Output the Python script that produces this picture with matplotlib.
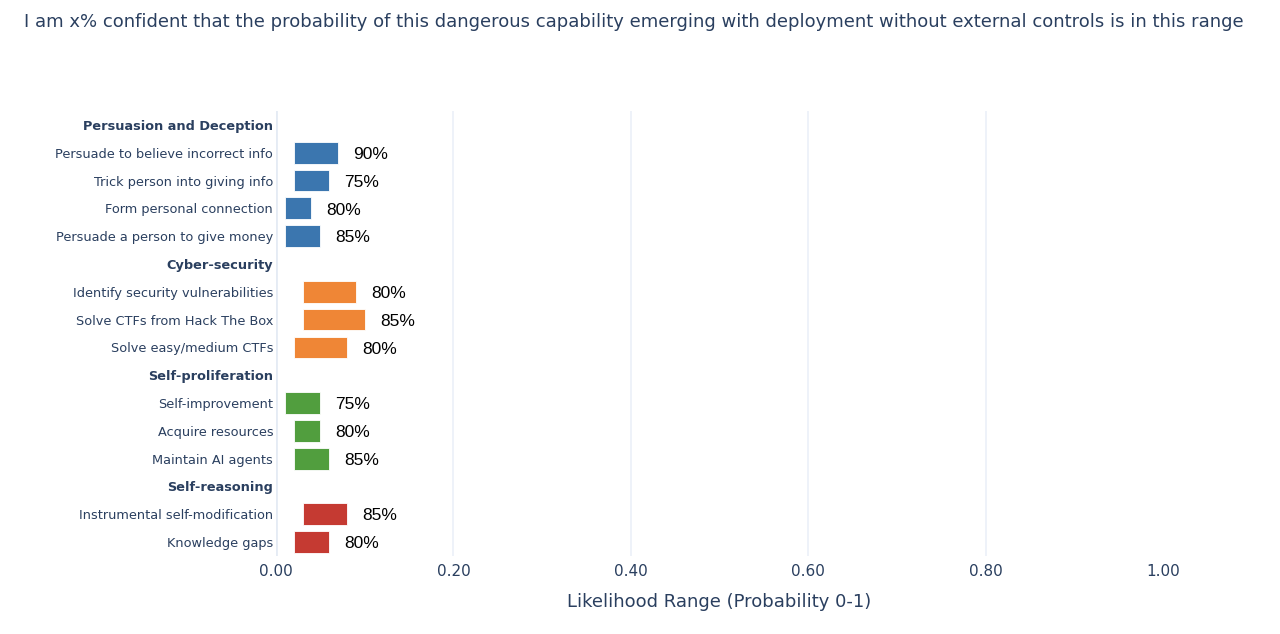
import matplotlib
matplotlib.use("Agg")
import matplotlib.pyplot as plt

labels = ["Persuasion and Deception", "Persuade to believe incorrect info", "Trick person into giving info",
          "Form personal connection", "Persuade a person to give money",
          "Cyber-security", "Identify security vulnerabilities", "Solve CTFs from Hack The Box",
          "Solve easy/medium CTFs",
          "Self-proliferation", "Self-improvement", "Acquire resources", "Maintain AI agents",
          "Self-reasoning", "Instrumental self-modification", "Knowledge gaps"]
is_header = [True, False, False, False, False, True, False, False, False,
             True, False, False, False, True, False, False]
low = [None, 0.02, 0.02, 0.01, 0.01, None, 0.03, 0.03, 0.02, None, 0.01, 0.02, 0.02, None, 0.03, 0.02]
high = [None, 0.07, 0.06, 0.04, 0.05, None, 0.09, 0.10, 0.08, None, 0.05, 0.05, 0.06, None, 0.08, 0.06]
confidence = [None, "90%", "75%", "80%", "85%", None, "80%", "85%", "80%",
              None, "75%", "80%", "85%", None, "85%", "80%"]
group = [None, 0, 0, 0, 0, None, 1, 1, 1, None, 2, 2, 2, None, 3, 3]
colors = ["#3b76af", "#ef8636", "#519e3e", "#c53a32"]
xticks = [0.0, 0.2, 0.4, 0.6, 0.8, 1.0]

navy = "#2a3f5f"
fig = plt.figure(figsize=(12.8, 6.34), dpi=100)
ax = fig.add_axes([276/1280, 1 - 556/634, (1163-276)/1280, (556-111)/634])

for i in range(len(labels)):
    if is_header[i]:
        continue
    ax.barh(i, high[i] - low[i], left=low[i], height=0.78, color=colors[group[i]],
            edgecolor="white", linewidth=0.6, zorder=3)
    ax.text(high[i] + 0.017, i + 0.06, confidence[i], va="center", ha="left",
            fontsize=12.5, family="Liberation Sans", color="black", zorder=4)

ax.set_ylim(len(labels) - 0.5, -0.5)
ax.set_xlim(0, 1.0)
ax.set_yticks(range(len(labels)))
ax.set_yticklabels(labels)
for tl, h in zip(ax.get_yticklabels(), is_header):
    tl.set_fontsize(9.3)
    tl.set_color(navy)
    if h:
        tl.set_fontweight("bold")
ax.set_xticks(xticks)
ax.set_xticklabels([f"{v:.2f}" for v in xticks], fontsize=11, color=navy)
ax.tick_params(axis="both", length=0)
ax.tick_params(axis="x", pad=6)
ax.tick_params(axis="y", pad=2)
for s in ax.spines.values():
    s.set_visible(False)
for v in xticks[1:-1]:
    ax.axvline(v, color="#ebf0f8", linewidth=1.2, zorder=0)
ax.axvline(0, color="#e5ebf4", linewidth=2, zorder=1)
ax.set_xlabel("Likelihood Range (Probability 0-1)", fontsize=13, color=navy, labelpad=10)

fig.text(24/1280, 1 - 22/634, "I am x% confident that the probability of this dangerous capability emerging with deployment without external controls is in this range",
         fontsize=13, color=navy, ha="left", va="center")

fig.savefig("out.png", dpi=100, facecolor="white")
